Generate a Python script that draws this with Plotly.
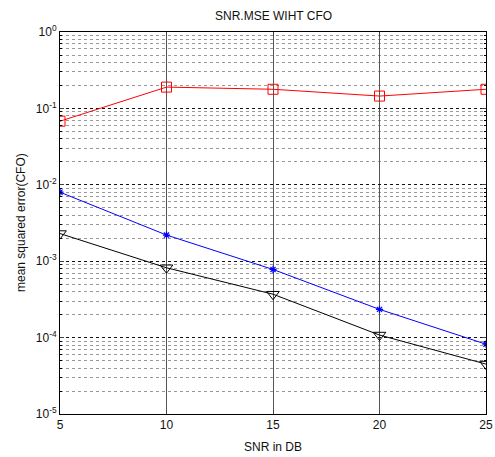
import plotly.graph_objects as go

snr = [5, 10, 15, 20, 25]
mse_red = [0.068, 0.19, 0.178, 0.145, 0.178]
mse_blue = [0.008, 0.0022, 0.00078, 0.000234, 0.000082]
mse_black = [0.0023, 0.00082, 0.00037, 0.000108, 0.000045]

x_ticks = [5, 10, 15, 20, 25]
y_tickvals = [1e-5, 1e-4, 1e-3, 1e-2, 1e-1, 1e0]
y_ticktext = ["10<sup>-5</sup>", "10<sup>-4</sup>", "10<sup>-3</sup>", "10<sup>-2</sup>", "10<sup>-1</sup>", "10<sup>0</sup>"]

W, H = 495, 457
L, R, T, B = 60, 9, 32, 43

fig = go.Figure()
fig.add_trace(go.Scatter(x=snr, y=mse_red, mode="lines+markers",
                         line=dict(color="red", width=1),
                         marker=dict(symbol="square-open", size=10, color="red", line=dict(width=1))))
fig.add_trace(go.Scatter(x=snr, y=mse_blue, mode="lines+markers",
                         line=dict(color="blue", width=1),
                         marker=dict(symbol="asterisk-open", size=6, color="blue", line=dict(width=1.2, color="blue"))))
fig.add_trace(go.Scatter(x=snr, y=mse_black, mode="lines+markers",
                         line=dict(color="black", width=1),
                         marker=dict(symbol="triangle-down-open", size=11, color="black", line=dict(width=1))))

font = dict(family="Liberation Sans, Arial", size=12, color="#111")
fig.update_layout(
    width=W, height=H,
    margin=dict(l=L, r=R, t=T, b=B, autoexpand=False),
    paper_bgcolor="white", plot_bgcolor="white",
    showlegend=False,
    font=font,
)
fig.update_xaxes(range=[5, 25], tickvals=x_ticks, ticks="inside", ticklen=4,
                 showline=True, linecolor="black", linewidth=1, mirror="ticks",
                 showgrid=True, gridcolor="#555", gridwidth=0.6,
                 zeroline=False, automargin=False, tickfont=font)
fig.update_yaxes(type="log", range=[-5, 0], tickvals=y_tickvals, ticktext=y_ticktext,
                 ticks="inside", ticklen=4,
                 showline=True, linecolor="black", linewidth=1, mirror="ticks",
                 showgrid=True, gridcolor="#111", gridwidth=1, griddash="dot",
                 minor=dict(dtick="D1", ticks="inside", ticklen=2, tickcolor="black", showgrid=True,
                            gridcolor="#999", gridwidth=1, griddash="dot"),
                 zeroline=False, automargin=False, tickfont=font)

ph = H - T - B
pw = W - L - R
fig.add_annotation(text="SNR.MSE WIHT CFO", x=0.5, y=1 + (T - 16) / ph, xref="paper", yref="paper",
                   showarrow=False, font=font, xanchor="center", yanchor="middle")
fig.add_annotation(text="SNR in DB", x=0.5, y=-(447 - (H - B)) / ph, xref="paper", yref="paper",
                   showarrow=False, font=font, xanchor="center", yanchor="middle")
fig.add_annotation(text="mean squared error(CFO)", x=-(L - 21) / pw, y=0.5, xref="paper", yref="paper",
                   showarrow=False, font=font, xanchor="center", yanchor="middle", textangle=-90)

fig.write_html("out.html", config={"displayModeBar": False})
with open("out.html", "r", encoding="utf-8") as f:
    html = f.read()
html = html.replace("<head>", "<head><style>html,body{margin:0;padding:0;overflow:hidden;}</style>", 1)
with open("out.html", "w", encoding="utf-8") as f:
    f.write(html)
